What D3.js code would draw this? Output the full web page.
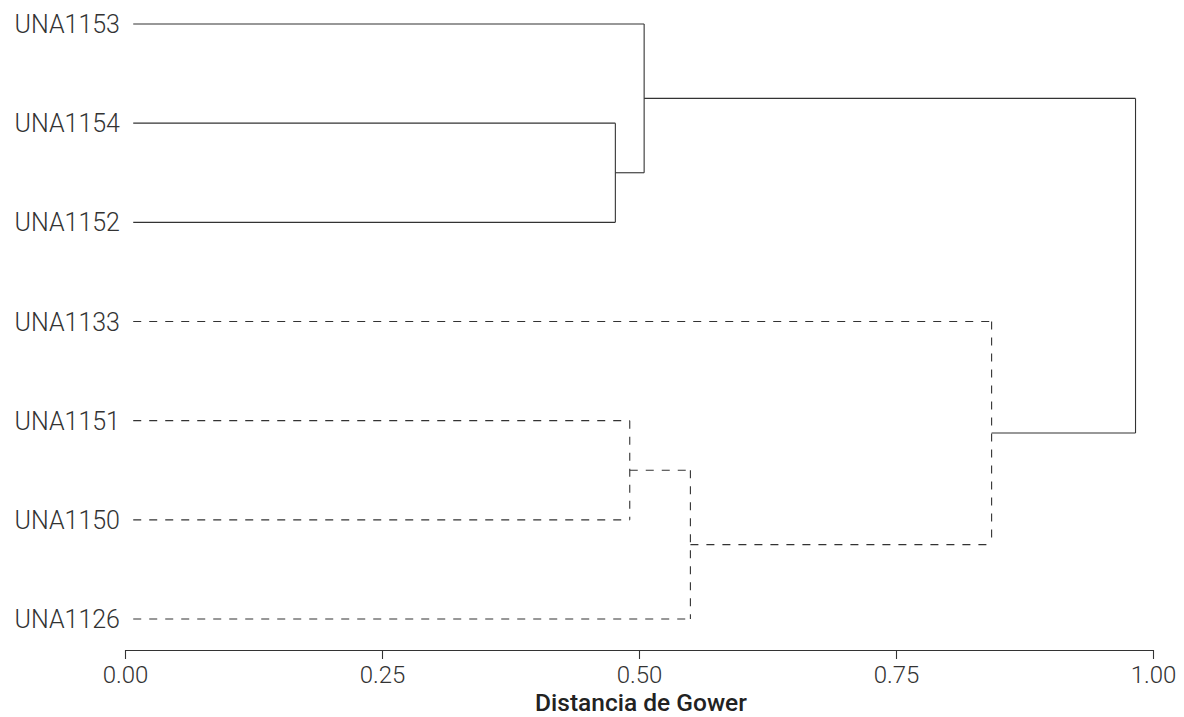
<!DOCTYPE html>
<html>
<head>
<meta charset="utf-8">
<script src="https://cdn.jsdelivr.net/npm/d3@7"></script>
<style>
    body { margin: 0; background: #fff; }
    svg { display: block; }
</style>
</head>
<body>
<svg id="chart" width="1184" height="717"></svg>
<script>
// leaves, top to bottom
var leafLabels = ["UNA1153", "UNA1154", "UNA1152", "UNA1133", "UNA1151", "UNA1150", "UNA1126"];
var leafHeight = 0.008;

// merges (hclust style: negative = leaf index, positive = earlier merge number)
var mergeLeft = [-2, -1, -5, 3, -4, 2];
var mergeRight = [-3, 1, -6, -7, 4, 5];
var mergeHeight = [0.477, 0.505, 0.491, 0.550, 0.843, 0.983];
var mergeDashed = [false, false, true, true, true, false];

var xTicks = [0, 0.25, 0.5, 0.75, 1];
var xTitle = "Distancia de Gower";

var svg = d3.select("#chart");
var ink = "#333333";

var x = d3.scaleLinear().domain([0, 1]).range([125, 1153]);
var y = d3.scalePoint().domain(leafLabels).range([24, 619]);

// position of a child (leaf or earlier merge)
var nodes = [];
function childPos(id) {
    if (id < 0) {
        var lab = leafLabels[-id - 1];
        return {h: leafHeight, y: y(lab)};
    }
    return nodes[id - 1];
}

var links = svg.append("g").attr("class", "links")
    .attr("fill", "none")
    .attr("stroke", ink)
    .attr("stroke-width", 1.1);

function segment(x1, y1, x2, y2, dashed) {
    links.append("line")
        .attr("x1", x1).attr("y1", y1)
        .attr("x2", x2).attr("y2", y2)
        .attr("stroke-dasharray", dashed ? "8,8" : null);
}

mergeHeight.forEach(function (h, i) {
    var a = childPos(mergeLeft[i]);
    var b = childPos(mergeRight[i]);
    var node = {h: h, y: (a.y + b.y) / 2};
    nodes.push(node);
    var dashed = mergeDashed[i];
    // horizontals drawn left to right, vertical top to bottom
    segment(x(a.h), a.y, x(h), a.y, dashed);
    segment(x(b.h), b.y, x(h), b.y, dashed);
    segment(x(h), Math.min(a.y, b.y), x(h), Math.max(a.y, b.y), dashed);
});

// leaf labels
svg.append("g").selectAll("text")
    .data(leafLabels)
    .join("text")
    .attr("x", 120)
    .attr("y", function (d) { return y(d); })
    .attr("dy", "0.36em")
    .attr("text-anchor", "end")
    .attr("font-family", "Roboto")
    .attr("font-weight", 300)
    .attr("font-size", 25)
    .attr("fill", ink)
    .text(function (d) { return d; });

// x axis
var axis = svg.append("g")
    .attr("transform", "translate(0,650)")
    .call(d3.axisBottom(x).tickValues(xTicks).tickFormat(d3.format(".2f"))
        .tickSizeInner(9).tickSizeOuter(0).tickPadding(7));
axis.select(".domain").attr("stroke", ink).attr("stroke-width", 1.1);
axis.selectAll(".tick line").attr("stroke", ink).attr("stroke-width", 1.1);
axis.selectAll(".tick text")
    .attr("font-family", "Roboto")
    .attr("font-weight", 300)
    .attr("font-size", 24)
    .attr("fill", ink);

svg.append("text")
    .attr("x", (x(0) + x(1)) / 2 + 2)
    .attr("y", 711)
    .attr("text-anchor", "middle")
    .attr("font-family", "Roboto")
    .attr("font-weight", 500)
    .attr("font-size", 24.5)
    .attr("fill", "#222")
    .text(xTitle);
</script>
</body>
</html>
